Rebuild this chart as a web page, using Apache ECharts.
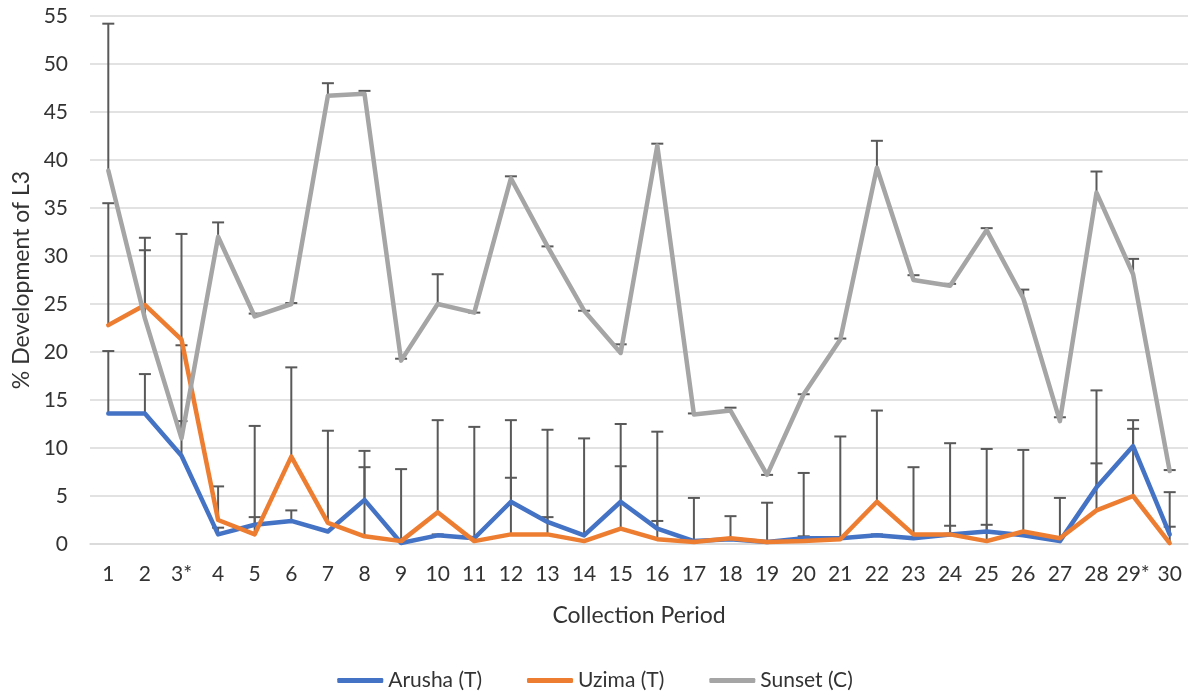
<!DOCTYPE html>
<html>
<head>
<meta charset="utf-8">
<script src="https://cdn.jsdelivr.net/npm/echarts@6/dist/echarts.min.js"></script>
<style>html,body{margin:0;padding:0;background:#fff}#c{width:1190px;height:698px}</style>
</head>
<body>
<div id="c"></div>
<script>
var categories = ["1","2","3*","4","5","6","7","8","9","10","11","12","13","14","15","16","17","18","19","20","21","22","23","24","25","26","27","28","29*","30"];
var yTicks = {min: 0, max: 55, interval: 5};

var arusha = [13.6,13.6,9.2,1.0,2.0,2.4,1.3,4.6,0.1,0.9,0.6,4.4,2.3,0.9,4.4,1.6,0.3,0.5,0.2,0.6,0.6,0.9,0.6,1.0,1.3,0.9,0.3,5.9,10.2,1.0];
var uzima  = [22.8,24.9,21.3,2.5,1.0,9.1,2.2,0.8,0.3,3.3,0.3,1.0,1.0,0.3,1.6,0.5,0.2,0.6,0.2,0.3,0.5,4.4,1.0,1.0,0.3,1.3,0.6,3.5,5.0,0.1];
var sunset = [38.9,23.5,11.0,32.0,23.7,25.0,46.7,46.9,19.1,25.0,24.1,38.1,31.0,24.3,19.9,41.5,13.5,13.9,7.2,15.6,21.3,39.2,27.5,26.9,32.7,25.6,12.8,36.6,28.1,7.6];

// upper ends of error bars (null = no visible bar)
var arushaErrTop = [20.1,17.7,20.7,1.7,2.8,3.5,null,9.7,7.8,1.0,12.2,6.9,11.9,11.0,8.1,2.4,4.8,2.9,4.3,7.4,11.2,1.0,8.0,1.9,2.0,9.8,4.8,16.0,12.9,5.4];
var uzimaErrTop  = [35.5,30.6,32.3,6.0,12.3,18.4,11.8,8.0,null,12.9,null,12.9,2.8,null,12.5,11.7,null,null,null,0.8,null,13.9,null,10.5,9.9,null,null,8.4,12.0,1.8];
var sunsetErrTop = [54.2,31.9,12.8,33.5,24.0,25.1,48.0,47.2,19.3,28.1,24.1,38.3,31.0,24.3,20.8,41.7,13.6,14.2,7.2,15.6,21.4,42.0,28.0,27.1,32.9,26.5,13.2,38.8,29.7,7.7];

var FONT = 'Lato';
var TXT = '#333333';

function errData(vals, tops) {
  var out = [];
  for (var i = 0; i < vals.length; i++) {
    if (tops[i] != null) out.push([i, vals[i], tops[i]]);
  }
  return out;
}
function renderErr(params, api) {
  var x = api.value(0), v = api.value(1), t = api.value(2);
  var p0 = api.coord([x, v]), p1 = api.coord([x, t]);
  var hw = 6;
  var st = {stroke: '#595959', lineWidth: 2};
  return {type: 'group', children: [
    {type: 'line', shape: {x1: p0[0], y1: p0[1], x2: p1[0], y2: p1[1]}, style: st},
    {type: 'line', shape: {x1: p1[0] - hw, y1: p1[1], x2: p1[0] + hw, y2: p1[1]}, style: st}
  ]};
}
function errSeries(vals, tops) {
  return {type: 'custom', renderItem: renderErr, data: errData(vals, tops), z: 1, silent: true,
          encode: {x: 0, y: [1, 2]}, legendHoverLink: false};
}
function lineSeries(name, data, color) {
  return {name: name, type: 'line', data: data, showSymbol: false, symbol: 'none', z: 3,
          lineStyle: {width: 4.5, color: color, cap: 'round', join: 'round'}, itemStyle: {color: color}};
}

var chart = echarts.init(document.getElementById('c'));
chart.setOption({
  animation: false,
  grid: {left: 90, right: 2, top: 16, bottom: 154, containLabel: false},
  legend: {
    bottom: 2, left: 'center', itemGap: 45, itemWidth: 46, itemHeight: 5, icon: 'roundRect',
    data: ['Arusha (T)', 'Uzima (T)', 'Sunset (C)'],
    textStyle: {fontFamily: FONT, fontSize: 21, color: TXT}
  },
  xAxis: {
    type: 'category', data: categories, boundaryGap: true,
    name: 'Collection Period', nameLocation: 'middle', nameGap: 60,
    nameTextStyle: {fontFamily: FONT, fontSize: 23, color: TXT},
    axisLine: {show: true, lineStyle: {color: '#d9d9d9', width: 1.5}},
    axisTick: {show: false},
    axisLabel: {fontFamily: FONT, fontSize: 21, color: TXT, margin: 20, interval: 0}
  },
  yAxis: {
    type: 'value', min: yTicks.min, max: yTicks.max, interval: yTicks.interval,
    name: '% Development of L3', nameLocation: 'middle', nameGap: 55, nameRotate: 90,
    nameTextStyle: {fontFamily: FONT, fontSize: 23, color: TXT},
    axisLine: {show: false}, axisTick: {show: false},
    axisLabel: {fontFamily: FONT, fontSize: 21, color: TXT, margin: 22},
    splitLine: {lineStyle: {color: '#d9d9d9', width: 1.5}}
  },
  series: [
    errSeries(arusha, arushaErrTop),
    errSeries(uzima, uzimaErrTop),
    errSeries(sunset, sunsetErrTop),
    lineSeries('Arusha (T)', arusha, '#4472C4'),
    lineSeries('Uzima (T)', uzima, '#ED7D31'),
    lineSeries('Sunset (C)', sunset, '#A5A5A5')
  ]
});
</script>
</body>
</html>
